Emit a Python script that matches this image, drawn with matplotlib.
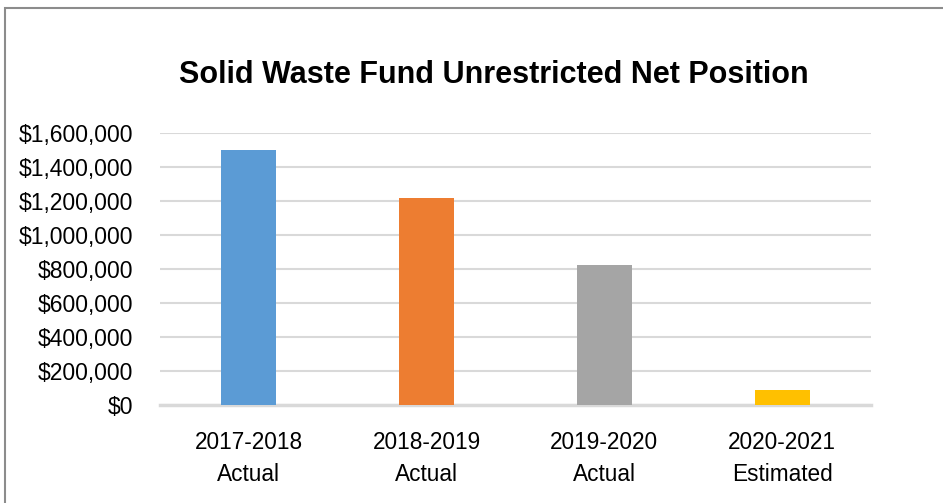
import matplotlib.pyplot as plt
from matplotlib.patches import Rectangle
from matplotlib.ticker import FuncFormatter
import matplotlib.patheffects as pe

categories = ["2017-2018\nActual", "2018-2019\nActual", "2019-2020\nActual",
              "2020-2021\nEstimated"]
net_position = [1500000, 1218000, 826000, 90000]
bar_colors = ["#5B9BD5", "#ED7D31", "#A5A5A5", "#FFC000"]
y_ticks = [0, 200000, 400000, 600000, 800000, 1000000, 1200000, 1400000,
           1600000]

plt.rcParams['font.family'] = ['Liberation Sans', 'DejaVu Sans']

fig = plt.figure(figsize=(9.43, 5.03), dpi=100)
ax = fig.add_axes([160 / 943, 1 - 405 / 503, 711 / 943, 272 / 503])

# chart frame, cut off on the right and bottom like the screenshot
fig.patches.append(Rectangle((5 / 943, -0.1), 1.0, (503 - 8) / 503 + 0.1,
                             transform=fig.transFigure, fill=False,
                             edgecolor="#8C8C8C", linewidth=1.5))

x = range(len(categories))
bars = ax.bar(x, net_position, width=0.31, color=bar_colors, zorder=3)
for b in bars:
    b.set_path_effects([pe.SimplePatchShadow(offset=(0, -1), alpha=0.25,
                                             shadow_rgbFace="#666666"),
                        pe.Normal()])

ax.set_xlim(-0.5, len(categories) - 0.5)
ax.set_ylim(0, 1600000)
ax.set_yticks(y_ticks)
ax.yaxis.set_major_formatter(FuncFormatter(lambda v, p: f"${v:,.0f}"))
ax.set_xticks(list(x))
ax.set_xticklabels(categories, fontsize=16.3, linespacing=1.5)
ax.tick_params(axis='y', labelsize=16.5, length=0, pad=19.5)
ax.tick_params(axis='x', length=0, pad=19)

ax.grid(axis='y', color="#D9D9D9", linewidth=1.5, zorder=0)
for side in ["top", "right", "left"]:
    ax.spines[side].set_visible(False)
ax.spines["bottom"].set_color("#D9D9D9")
ax.spines["bottom"].set_linewidth(2.5)

fig.text(494 / 943, 1 - 75 / 503, "Solid Waste Fund Unrestricted Net Position",
         ha="center", va="center", fontsize=22, fontweight="bold")

fig.savefig("out.png", dpi=100)
